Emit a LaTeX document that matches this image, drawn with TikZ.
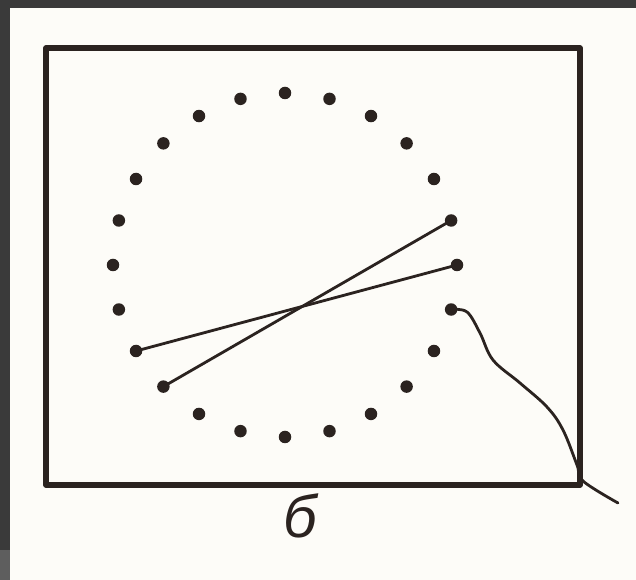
\documentclass[tikz,border=0pt]{standalone}
\usepackage{fontspec}
\setmainfont{Liberation Sans}
\usepackage{tikz}
\usetikzlibrary{positioning}

\definecolor{ink}{HTML}{2B2320}
\definecolor{paper}{HTML}{FDFCF8}
\definecolor{edge}{HTML}{3A3A3A}
\definecolor{edgelight}{HTML}{5E5E5E}

\tikzset{
    dot/.style={circle, fill=ink, inner sep=0pt, minimum size=0.25cm},
    frame/.style={draw=ink, line width=3pt, line join=round},
    thread/.style={draw=ink, line width=1.6pt, line cap=round}
}

\begin{document}
\begin{tikzpicture}

% Photo edge and paper
\useasboundingbox (0,0) rectangle (12.72,11.6);
\fill[edge] (0,0) rectangle (12.72,11.6);
\fill[edgelight] (0,0) rectangle (0.2,0.6);
\fill[paper] (0.2,0) rectangle (12.72,11.44);

% Board
\draw[frame] (0.92,1.9) rectangle (11.6,10.64);

% Pins round the circle
\begin{scope}[shift={(5.7,6.3)}]
\node[dot] (d0) at (0:3.44) {};
\node[dot] (d1) at (15:3.44) {};
\node[dot] (d2) at (30:3.44) {};
\node[dot] (d3) at (45:3.44) {};
\node[dot] (d4) at (60:3.44) {};
\node[dot] (d5) at (75:3.44) {};
\node[dot] (d6) at (90:3.44) {};
\node[dot] (d7) at (105:3.44) {};
\node[dot] (d8) at (120:3.44) {};
\node[dot] (d9) at (135:3.44) {};
\node[dot] (d10) at (150:3.44) {};
\node[dot] (d11) at (165:3.44) {};
\node[dot] (d12) at (180:3.44) {};
\node[dot] (d13) at (195:3.44) {};
\node[dot] (d14) at (210:3.44) {};
\node[dot] (d15) at (225:3.44) {};
\node[dot] (d16) at (240:3.44) {};
\node[dot] (d17) at (255:3.44) {};
\node[dot] (d18) at (270:3.44) {};
\node[dot] (d19) at (285:3.44) {};
\node[dot] (d20) at (300:3.44) {};
\node[dot] (d21) at (315:3.44) {};
\node[dot] (d22) at (330:3.44) {};
\node[dot] (d23) at (345:3.44) {};
\end{scope}

% Free end of the thread
\coordinate (tail) at (12.36,1.54);

% Threads
\draw[thread] (d1.center) -- (d15.center);
\draw[thread] (d0.center) -- (d14.center);
\draw[thread] plot[smooth, tension=0.6] coordinates {(d23.center) (9.34,5.36) (9.6,4.94) (9.86,4.4) (10.4,3.94) (10.94,3.46) (11.26,3.0) (11.54,2.3) (11.66,1.98) (tail)};

% Label
\node[text=ink, font=\fontsize{34}{40}\selectfont\itshape, below=0.05cm of {(6.0,1.9)}] (caption) {б};

\end{tikzpicture}
\end{document}
